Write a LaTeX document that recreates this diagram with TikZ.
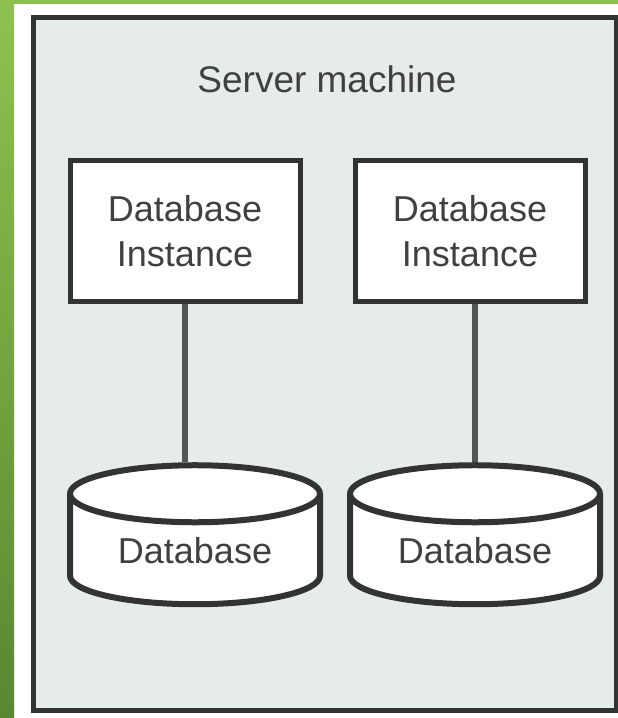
\documentclass[tikz,border=0pt]{standalone}
\usepackage{fontspec}
\setmainfont{Liberation Sans}
\usetikzlibrary{shapes}
\usetikzlibrary{positioning}

\definecolor{greenlight}{RGB}{142,194,80}
\definecolor{greendark}{RGB}{88,136,48}
\definecolor{boxgray}{RGB}{230,236,236}
\definecolor{edgegray}{RGB}{51,51,51}
\definecolor{linkgray}{RGB}{85,85,85}
\definecolor{textgray}{RGB}{64,64,64}

\begin{document}
\begin{tikzpicture}[
    x=1pt, y=1pt,
    font=\fontsize{36}{45}\selectfont,
    text=textgray
]
\tikzset{
    serverbox/.style = {draw=edgegray, line width=5pt, fill=boxgray},
    instnode/.style = {rectangle, draw=edgegray, line width=5pt, fill=white, align=center,
        minimum width=230pt, minimum height=141pt, inner sep=0pt},
    dbnode/.style = {cylinder, shape border rotate=90, aspect=0.37, draw=edgegray,
        line width=6pt, fill=white, minimum width=250pt, minimum height=139pt, inner sep=0pt},
    link/.style = {-, line width=6pt, draw=linkgray}
}
\useasboundingbox (0,0) rectangle (618,718);
\fill[white] (0,0) rectangle (618,718);
\shade[top color=greenlight, bottom color=greendark] (0,0) rectangle (14,718);
\fill[greenlight] (14,714) rectangle (618,718);
\draw[serverbox] (33,7) rectangle (616,700);
\node[anchor=base, font=\fontsize{37}{45}\selectfont] at (327,625) (title) {Server machine};
\node[instnode] at (185,486.5) (inst1) {Database\\Instance};
\node[instnode] at (470,486.5) (inst2) {Database\\Instance};
\node[dbnode] at (195,167.5) (db1) {Database};
\node[dbnode] at (475,167.5) (db2) {Database};
\draw[link] (inst1.south) -- (inst1.south |- db1.north);
\draw[link] (db2.north |- inst2.south) -- (db2.north);
\end{tikzpicture}
\end{document}
